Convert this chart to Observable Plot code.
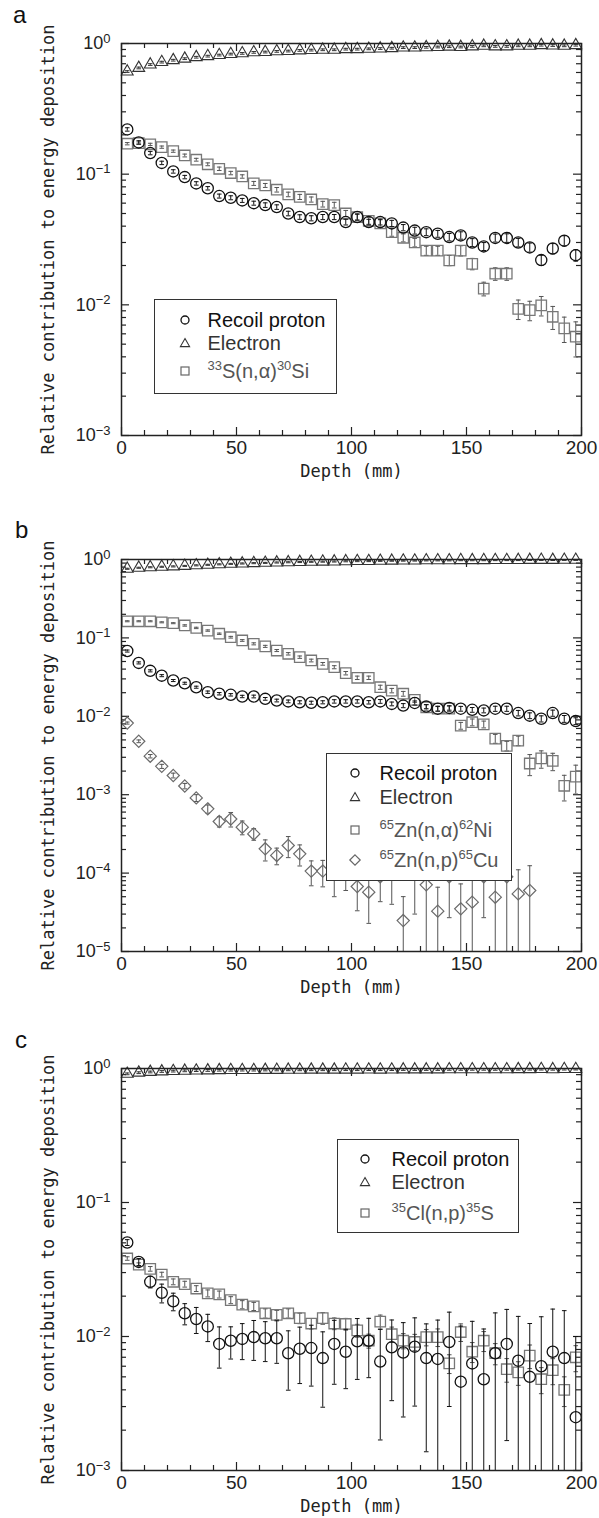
<!DOCTYPE html>
<html><head><meta charset="utf-8">
<script src="https://cdn.jsdelivr.net/npm/d3@7"></script>
<script src="https://cdn.jsdelivr.net/npm/@observablehq/plot@0.6"></script>
<style>
body{margin:0;background:#fff;width:599px;height:1518px;position:relative;overflow:hidden}
.panel{position:absolute;left:0;top:0}
.letter{position:absolute;font:24px "Liberation Sans",Arial,sans-serif;line-height:24px;color:#111}
.legend{position:absolute;background:#fff;border:1.5px solid #333;box-sizing:border-box}
.row{position:absolute;white-space:nowrap;font:20px "Liberation Sans",Arial,sans-serif;line-height:22px}
.sym{position:absolute}
.sup{font-size:13px;position:relative;top:-8px}
</style></head><body>
<script>
// ---------- data ----------
const depth = [2.5,7.5,12.5,17.5,22.5,27.5,32.5,37.5,42.5,47.5,52.5,57.5,62.5,67.5,72.5,77.5,82.5,87.5,92.5,97.5,102.5,107.5,112.5,117.5,122.5,127.5,132.5,137.5,142.5,147.5,152.5,157.5,162.5,167.5,172.5,177.5,182.5,187.5,192.5,197.5];

// panel a
const protonA = [0.22,0.175,0.145,0.122,0.105,0.095,0.085,0.078,0.068,0.066,0.063,0.060,0.058,0.056,0.050,0.047,0.046,0.047,0.047,0.043,0.047,0.043,0.043,0.042,0.039,0.037,0.036,0.035,0.033,0.034,0.030,0.028,0.0325,0.0325,0.030,0.0275,0.022,0.027,0.031,0.024];
const protonAErr = [0.03,0.03,0.03,0.03,0.03,0.03,0.03,0.03,0.035,0.035,0.035,0.035,0.04,0.04,0.04,0.04,0.045,0.045,0.045,0.05,0.05,0.05,0.05,0.055,0.055,0.06,0.06,0.06,0.065,0.065,0.07,0.07,0.07,0.075,0.075,0.08,0.09,0.09,0.09,0.1];
const electronA = [0.61,0.65,0.69,0.72,0.745,0.765,0.785,0.80,0.815,0.83,0.84,0.855,0.86,0.87,0.875,0.885,0.89,0.895,0.895,0.905,0.905,0.91,0.915,0.92,0.93,0.93,0.935,0.94,0.945,0.94,0.95,0.96,0.95,0.95,0.96,0.96,0.97,0.965,0.96,0.97];
const electronAErr = [0.015,0.015,0.015,0.015,0.015,0.015,0.015,0.015,0.015,0.015,0.015,0.015,0.015,0.015,0.015,0.015,0.015,0.015,0.015,0.015,0.015,0.015,0.015,0.015,0.015,0.015,0.015,0.015,0.015,0.015,0.015,0.015,0.015,0.015,0.015,0.015,0.015,0.015,0.015,0.015];
const sulfurA = [0.171,0.173,0.169,0.161,0.150,0.139,0.129,0.119,0.110,0.102,0.096,0.085,0.082,0.076,0.070,0.067,0.064,0.059,0.058,0.050,0.047,0.044,0.042,0.036,0.0326,0.030,0.026,0.026,0.0219,0.026,0.0206,0.0133,0.0173,0.0173,0.0093,0.0091,0.0099,0.0081,0.0066,0.0057];
const sulfurAErr = [0.02,0.02,0.02,0.02,0.02,0.025,0.025,0.025,0.03,0.03,0.03,0.035,0.035,0.04,0.04,0.045,0.045,0.05,0.05,0.055,0.06,0.06,0.065,0.07,0.07,0.075,0.08,0.08,0.09,0.09,0.1,0.12,0.11,0.11,0.17,0.17,0.17,0.2,0.22,0.3];

// panel b
const protonB = [0.068,0.048,0.038,0.033,0.0286,0.0264,0.0235,0.0203,0.0194,0.0188,0.0179,0.0179,0.0167,0.0159,0.0155,0.0151,0.0149,0.0151,0.0155,0.0155,0.0155,0.0151,0.0155,0.0144,0.0137,0.0148,0.0133,0.0125,0.0128,0.0125,0.0121,0.0119,0.0125,0.0125,0.011,0.0102,0.0093,0.011,0.0093,0.0087];
const protonBErr = [0.03,0.03,0.03,0.03,0.03,0.03,0.03,0.035,0.035,0.035,0.035,0.04,0.04,0.04,0.04,0.045,0.045,0.045,0.05,0.05,0.05,0.05,0.055,0.055,0.06,0.06,0.06,0.065,0.065,0.07,0.07,0.07,0.075,0.075,0.08,0.085,0.09,0.09,0.1,0.1];
const electronB = [0.761,0.784,0.796,0.807,0.816,0.828,0.842,0.855,0.867,0.879,0.889,0.898,0.905,0.915,0.922,0.928,0.934,0.938,0.942,0.949,0.953,0.954,0.961,0.964,0.967,0.969,0.974,0.975,0.975,0.98,0.979,0.98,0.982,0.983,0.984,0.987,0.988,0.986,0.989,0.989];
const electronBErr = electronAErr;
const zincAlpha = [0.163,0.163,0.163,0.158,0.154,0.144,0.134,0.124,0.113,0.102,0.0927,0.084,0.078,0.069,0.0627,0.0568,0.0515,0.0467,0.0423,0.0355,0.031,0.031,0.0235,0.0213,0.0194,0.0162,0.013,0.0125,0.0125,0.0076,0.0084,0.0079,0.0052,0.0042,0.0049,0.0025,0.0029,0.0027,0.0013,0.0017];
const zincAlphaErr = [0.015,0.015,0.015,0.015,0.015,0.02,0.02,0.02,0.02,0.025,0.025,0.03,0.03,0.03,0.035,0.035,0.04,0.04,0.045,0.05,0.05,0.05,0.06,0.065,0.07,0.07,0.08,0.08,0.08,0.1,0.1,0.1,0.13,0.14,0.14,0.3,0.25,0.25,0.36,0.4];
const zincP = [0.0082,0.0048,0.0031,0.0023,0.00176,0.00129,0.00091,0.00066,0.000455,0.00049,0.000385,0.000316,0.000204,0.000168,0.000225,0.000176,0.000106,0.000106,0.0001,0.00012,0.0000675,0.0000571,0.00009,0.0001,0.0000248,0.0001,0.0000708,0.0000327,0.00009,0.000035,0.0000426,0.00009,0.0000493,0.00009,0.0000543,0.00006,null,null,null,null];
const zincPErr = [0.03,0.04,0.05,0.06,0.07,0.08,0.1,0.12,0.15,0.21,0.2,0.17,0.3,0.24,0.3,0.3,0.35,0.37,0.5,0.5,0.51,0.6,0.52,0.6,1.02,0.7,1.1,1.02,0.7,1.08,1.54,0.7,1.3,1.0,1.03,1.07,null,null,null,null];

// panel c
const protonC = [0.0503,0.036,0.0256,0.0212,0.0183,0.0149,0.0135,0.0119,0.0088,0.0093,0.0096,0.0099,0.0097,0.0097,0.0075,0.0081,0.0082,0.0069,0.0088,0.0077,0.0092,0.0093,0.0065,0.0083,0.0076,0.0084,0.0069,0.0068,0.0091,0.0046,0.0063,0.0048,0.0075,0.0088,0.0066,0.0050,0.0060,0.0077,0.0069,0.0025];
const protonCErr = [0.05,0.06,0.1,0.16,0.15,0.18,0.22,0.23,0.34,0.27,0.3,0.33,0.33,0.35,0.47,0.45,0.48,0.57,0.5,0.47,0.48,0.47,0.74,0.6,0.67,0.64,0.8,0.95,0.67,1.6,1.06,1.37,1.0,0.81,1.14,1.5,1.34,1.08,1.26,3.0];
const electronC = [0.912,0.93,0.942,0.95,0.956,0.961,0.964,0.967,0.971,0.972,0.973,0.973,0.975,0.976,0.978,0.978,0.979,0.979,0.979,0.98,0.98,0.981,0.98,0.981,0.983,0.983,0.983,0.983,0.985,0.985,0.986,0.986,0.985,0.986,0.988,0.988,0.989,0.987,0.989,0.99];
const electronCErr = electronAErr;
const chlorine = [0.0382,0.0344,0.032,0.029,0.0256,0.0246,0.0228,0.021,0.0206,0.0187,0.0173,0.0168,0.0149,0.0145,0.0149,0.0137,0.0125,0.0137,0.0125,0.0124,0.0111,0.0093,0.0129,0.0104,0.0093,0.0091,0.0099,0.0099,0.0063,0.0108,0.0077,0.0093,0.0075,0.0057,0.0054,0.0072,0.0048,0.0056,0.004,0.007];
const chlorineErr = [0.03,0.03,0.04,0.04,0.05,0.05,0.05,0.06,0.06,0.06,0.07,0.07,0.08,0.08,0.08,0.09,0.09,0.1,0.1,0.1,0.11,0.12,0.12,0.13,0.13,0.14,0.14,0.15,0.16,0.15,0.17,0.17,0.18,0.2,0.2,0.2,0.22,0.22,0.25,0.22];

// ticks and labels
const xMajor = [0,50,100,150,200];
const xMinor = [10,20,30,40,60,70,80,90,110,120,130,140,160,170,180,190];
const yMajorA = [1,0.1,0.01,0.001];
const yLabelsA = ["10|0","10|−1","10|−2","10|−3"];
const yMajorB = [1,0.1,0.01,0.001,0.0001,0.00001];
const yLabelsB = ["10|0","10|−1","10|−2","10|−3","10|−4","10|−5"];
const xTitle = "Depth (mm)";
const yTitle = "Relative contribution to energy deposition";

// ---------- drawing ----------
const W = 599, ML = 121, MR = 18;
const minorOf = (major) => major.slice(1).flatMap(d => [2,3,4,5,6,7,8,9].map(m => m * d));
const cap = {draw(ctx){ ctx.moveTo(-2.3, 0); ctx.lineTo(2.3, 0); }};

function series(ys, es, st, ymin, ymax) {
  const rows = depth.map((x, i) => ({x, y: ys[i], e: es[i]})).filter(d => d.y != null);
  const lo = d => Math.max(d.y * (1 - d.e), ymin);
  const hi = d => Math.min(d.y * (1 + d.e), ymax);
  return [
    Plot.ruleX(rows, {x: "x", y1: lo, y2: hi, stroke: st.bar, strokeWidth: 1}),
    Plot.dot(rows, {x: "x", y: hi, symbol: cap, r: 2, fill: "none", stroke: st.bar, strokeWidth: 1}),
    Plot.dot(rows.filter(d => d.y * (1 - d.e) > ymin), {x: "x", y: d => d.y * (1 - d.e), symbol: cap, r: 2, fill: "none", stroke: st.bar, strokeWidth: 1}),
    Plot.dot(rows, {x: "x", y: "y", symbol: st.symbol, r: st.r, fill: "none", stroke: st.stroke, strokeWidth: st.sw})
  ];
}

const S = {
  proton: {symbol: "circle", r: 5.6, stroke: "#111", sw: 1.3, bar: "#111"},
  electron: {symbol: "triangle", r: 4.4, stroke: "#333", sw: 1.1, bar: "#333"},
  sq: {symbol: "square", r: 5.9, stroke: "#777", sw: 1.3, bar: "#555"},
  dia: {symbol: "diamond2", r: 5.5, stroke: "#6a6a6a", sw: 1.2, bar: "#555"}
};

function drawPanel(cfg) {
  const innerW = W - ML - MR, innerH = cfg.height - cfg.mt - cfg.mb;
  const [ymin, ymax] = cfg.domain;
  const tickStyle = {stroke: "#222", strokeWidth: 1.2};
  const yMinor = minorOf(cfg.yMajor);
  const marks = [
    Plot.tickX(xMajor, {x: d => d, insetTop: innerH - 8, ...tickStyle}),
    Plot.tickX(xMajor, {x: d => d, insetBottom: innerH - 8, ...tickStyle}),
    Plot.tickX(xMinor, {x: d => d, insetTop: innerH - 5, ...tickStyle}),
    Plot.tickX(xMinor, {x: d => d, insetBottom: innerH - 5, ...tickStyle}),
    Plot.tickY(cfg.yMajor, {y: d => d, insetRight: innerW - 8, ...tickStyle}),
    Plot.tickY(cfg.yMajor, {y: d => d, insetLeft: innerW - 8, ...tickStyle}),
    Plot.tickY(yMinor, {y: d => d, insetRight: innerW - 5, ...tickStyle}),
    Plot.tickY(yMinor, {y: d => d, insetLeft: innerW - 5, ...tickStyle}),
  ];
  for (const s of cfg.series) marks.push(...series(s.ys, s.es, s.st, ymin, ymax));
  marks.push(
    Plot.frame({stroke: "#222", strokeWidth: 1.5}),
    Plot.text(xMajor, {x: d => d, frameAnchor: "bottom", dy: 18, text: d => String(d), fontSize: 19, fontFamily: "Liberation Sans, Arial, sans-serif", fill: "#222"}),
    Plot.text(cfg.yMajor, {y: d => d, frameAnchor: "left", dx: -11, textAnchor: "end", text: (d, i) => cfg.yLabels[i], fontSize: 18, fontFamily: "Liberation Sans, Arial, sans-serif", fill: "#222"}),
    Plot.text([xTitle], {frameAnchor: "bottom", dy: 41, text: d => d, fontSize: 17, fontFamily: "DejaVu Sans Mono, monospace", fill: "#222"}),
    Plot.text([yTitle], {frameAnchor: "left", dx: -73, rotate: -90, textAnchor: "middle", text: d => d, fontSize: 17, fontFamily: "DejaVu Sans Mono, monospace", fill: "#222"})
  );
  const svg = Plot.plot({
    width: W, height: cfg.height,
    marginLeft: ML, marginRight: MR, marginTop: cfg.mt, marginBottom: cfg.mb,
    x: {domain: [0, 200], axis: null},
    y: {type: "log", domain: cfg.domain, axis: null},
    style: {background: "transparent", overflow: "visible"},
    marks
  });
  d3.select(svg).selectAll("text").each(function() {
    const t = this.textContent;
    if (t.includes("|")) {
      const [b, e] = t.split("|");
      this.textContent = b;
      const ts = document.createElementNS("http://www.w3.org/2000/svg", "tspan");
      ts.setAttribute("dy", "-0.5em");
      ts.setAttribute("font-size", "13");
      ts.textContent = e;
      this.appendChild(ts);
    }
  });
  const wrap = document.createElement("div");
  wrap.className = "panel";
  wrap.style.top = cfg.top + "px";
  wrap.appendChild(svg);
  document.body.appendChild(wrap);
}

drawPanel({top: 0, height: 500, mt: 43, mb: 65, domain: [0.001, 1], yMajor: yMajorA, yLabels: yLabelsA,
  series: [
    {ys: electronA, es: electronAErr, st: S.electron},
    {ys: sulfurA, es: sulfurAErr, st: S.sq},
    {ys: protonA, es: protonAErr, st: S.proton}
  ]});
drawPanel({top: 500, height: 510, mt: 59, mb: 59, domain: [0.00001, 1], yMajor: yMajorB, yLabels: yLabelsB,
  series: [
    {ys: electronB, es: electronBErr, st: S.electron},
    {ys: zincAlpha, es: zincAlphaErr, st: S.sq},
    {ys: zincP, es: zincPErr, st: S.dia},
    {ys: protonB, es: protonBErr, st: S.proton}
  ]});
drawPanel({top: 1010, height: 508, mt: 58, mb: 48, domain: [0.001, 1], yMajor: yMajorA, yLabels: yLabelsA,
  series: [
    {ys: electronC, es: electronCErr, st: S.electron},
    {ys: chlorine, es: chlorineErr, st: S.sq},
    {ys: protonC, es: protonCErr, st: S.proton}
  ]});

// ---------- letters & legends ----------
function letter(t, x, top) {
  const d = document.createElement("div");
  d.className = "letter"; d.textContent = t;
  d.style.left = x + "px"; d.style.top = top + "px";
  document.body.appendChild(d);
}
letter("a", 13, 3); letter("b", 15, 518); letter("c", 15, 1028);

const symSvg = {
  circle: '<circle cx="7" cy="7" r="4" fill="none" stroke="#111" stroke-width="1.3"/>',
  triangle: '<polygon points="7,2.6 11.6,10.6 2.4,10.6" fill="none" stroke="#333" stroke-width="1.1"/>',
  square: '<rect x="3" y="3" width="8" height="8" fill="none" stroke="#666" stroke-width="1.2"/>',
  diamond: '<polygon points="7,1.8 12.2,7 7,12.2 1.8,7" fill="none" stroke="#666" stroke-width="1.2"/>'
};
function legend(box, symX, textX, rows) {
  const L = document.createElement("div");
  L.className = "legend";
  Object.assign(L.style, {left: box[0] + "px", top: box[1] + "px", width: box[2] + "px", height: box[3] + "px"});
  for (const r of rows) {
    const cy = r.y - box[1];
    const s = document.createElement("div");
    s.className = "sym";
    s.style.left = (symX - box[0] - 7 - 1.5) + "px";
    s.style.top = (cy - 7 - 1.5) + "px";
    s.innerHTML = '<svg width="14" height="14">' + symSvg[r.sym] + '</svg>';
    L.appendChild(s);
    const t = document.createElement("div");
    t.className = "row";
    t.style.left = (textX - box[0] - 1.5) + "px";
    t.style.top = (cy - 11 - 1.5) + "px";
    t.style.color = r.color;
    t.innerHTML = r.html;
    L.appendChild(t);
  }
  document.body.appendChild(L);
}
legend([154, 299, 183, 95], 185, 208, [
  {y: 320, sym: "circle", color: "#111", html: "Recoil proton"},
  {y: 343, sym: "triangle", color: "#333", html: "Electron"},
  {y: 371, sym: "square", color: "#555", html: '<span class="sup">33</span>S(n,α)<span class="sup">30</span>Si'}
]);
legend([326, 753, 186, 128], 355, 380, [
  {y: 773, sym: "circle", color: "#111", html: "Recoil proton"},
  {y: 797, sym: "triangle", color: "#333", html: "Electron"},
  {y: 830, sym: "square", color: "#555", html: '<span class="sup">65</span>Zn(n,α)<span class="sup">62</span>Ni'},
  {y: 860, sym: "diamond", color: "#555", html: '<span class="sup">65</span>Zn(n,p)<span class="sup">65</span>Cu'}
]);
legend([337, 1139, 182, 94], 365, 392, [
  {y: 1159, sym: "circle", color: "#111", html: "Recoil proton"},
  {y: 1182, sym: "triangle", color: "#333", html: "Electron"},
  {y: 1213, sym: "square", color: "#555", html: '<span class="sup">35</span>Cl(n,p)<span class="sup">35</span>S'}
]);
</script>
</body></html>
